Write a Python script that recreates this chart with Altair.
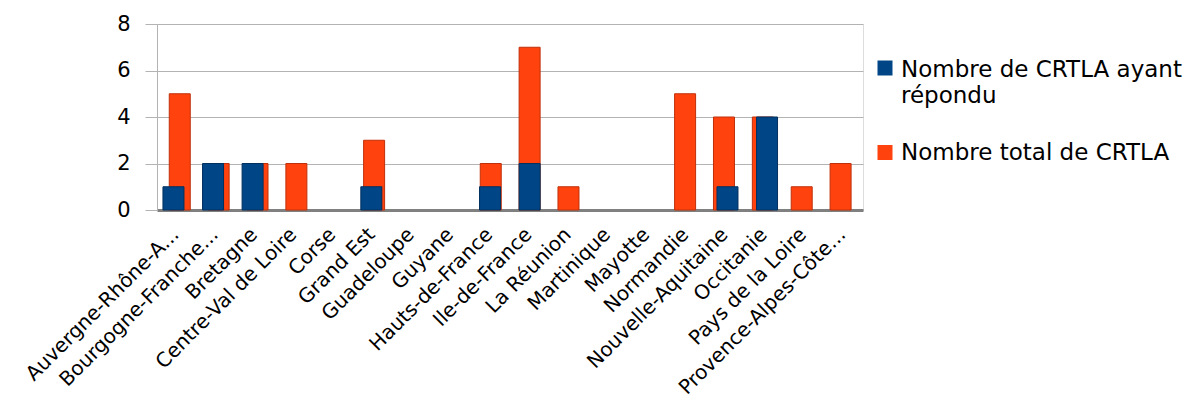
import altair as alt
import pandas as pd

regions = ["Auvergne-Rhône-A...", "Bourgogne-Franche...", "Bretagne", "Centre-Val de Loire",
           "Corse", "Grand Est", "Guadeloupe", "Guyane", "Hauts-de-France", "Ile-de-France",
           "La Réunion", "Martinique", "Mayotte", "Normandie", "Nouvelle-Aquitaine",
           "Occitanie", "Pays de la Loire", "Provence-Alpes-Côte..."]
repondu = [1, 2, 2, 0, 0, 1, 0, 0, 1, 2, 0, 0, 0, 0, 1, 4, 0, 0]
total = [5, 2, 2, 2, 0, 3, 0, 0, 2, 7, 1, 0, 0, 5, 4, 4, 1, 2]
series = ["Nombre de CRTLA ayant répondu", "Nombre total de CRTLA"]
colors = ["#004586", "#ff420e"]
y_ticks = [0, 2, 4, 6, 8]

FONT = "DejaVu Sans"

df = pd.DataFrame({
    "region": regions * 2,
    "idx": list(range(len(regions))) * 2,
    "series": [series[0]] * len(regions) + [series[1]] * len(regions),
    "value": repondu + total,
})

color_scale = alt.Scale(domain=series, range=colors)
x_enc = alt.X("region:N", title=None,
              scale=alt.Scale(domain=regions, paddingInner=0, paddingOuter=0),
              axis=alt.Axis(labelAngle=-45, labelFontSize=20, labelColor="#000000",
                            labelFont=FONT, labelPadding=14, labelOffset=-8, ticks=False,
                            domainColor="#808080", domainWidth=3, labelLimit=0, grid=False))
y_enc = alt.Y("value:Q", title=None,
              scale=alt.Scale(domain=[0, 8], nice=False),
              axis=alt.Axis(values=y_ticks, labelFontSize=21, labelColor="#000000",
                            labelFont=FONT, labelPadding=15, tickSize=12,
                            tickColor="#b3b3b3", domainColor="#b3b3b3", gridColor="#b3b3b3",
                            grid=True))

base = alt.Chart(df).transform_filter("datum.value > 0")

orange = base.transform_filter(alt.datum.series == series[1]).mark_bar(
    width=21, stroke="#c0300a", strokeWidth=1,
    xOffset=alt.ExprRef(expr="(9 - datum.idx) * 0.35")
).encode(x=x_enc, y=y_enc,
         color=alt.Color("series:N", scale=color_scale, legend=None))

blue = base.transform_filter(alt.datum.series == series[0]).mark_bar(
    width=21, stroke="#00305e", strokeWidth=1,
    xOffset=alt.ExprRef(expr="-(9 - datum.idx) * 0.35")
).encode(x=x_enc, y=y_enc,
         color=alt.Color("series:N", scale=color_scale, legend=None))

leg_df = pd.DataFrame({"series": series,
                       "label": ["Nombre de CRTLA ayant\nrépondu", "Nombre total de CRTLA"]})

def leg_square(i, ypos):
    return alt.Chart(leg_df).transform_filter(alt.datum.series == series[i]).mark_square(
        size=225, opacity=1).encode(
        x=alt.value(728), y=alt.value(ypos),
        color=alt.Color("series:N", scale=color_scale, legend=None))

def leg_text(i, ypos):
    return alt.Chart(leg_df).transform_filter(alt.datum.series == series[i]).mark_text(
        align="left", baseline="alphabetic", fontSize=23, font=FONT,
        color="#000000", lineBreak="\n", lineHeight=26.6).encode(
        x=alt.value(744), y=alt.value(ypos), text="label:N")

chart = alt.layer(
    orange, blue,
    leg_square(0, 44), leg_text(0, 52.7),
    leg_square(1, 128.5), leg_text(1, 136),
).properties(
    width=706, height=186,
    autosize="none",
    padding={"left": 149, "top": 16, "right": 332, "bottom": 189},
).configure_view(stroke="#b3b3b3", strokeWidth=1).configure(background="white")

chart.save("out.html", embed_options={"renderer": "svg", "actions": False})
